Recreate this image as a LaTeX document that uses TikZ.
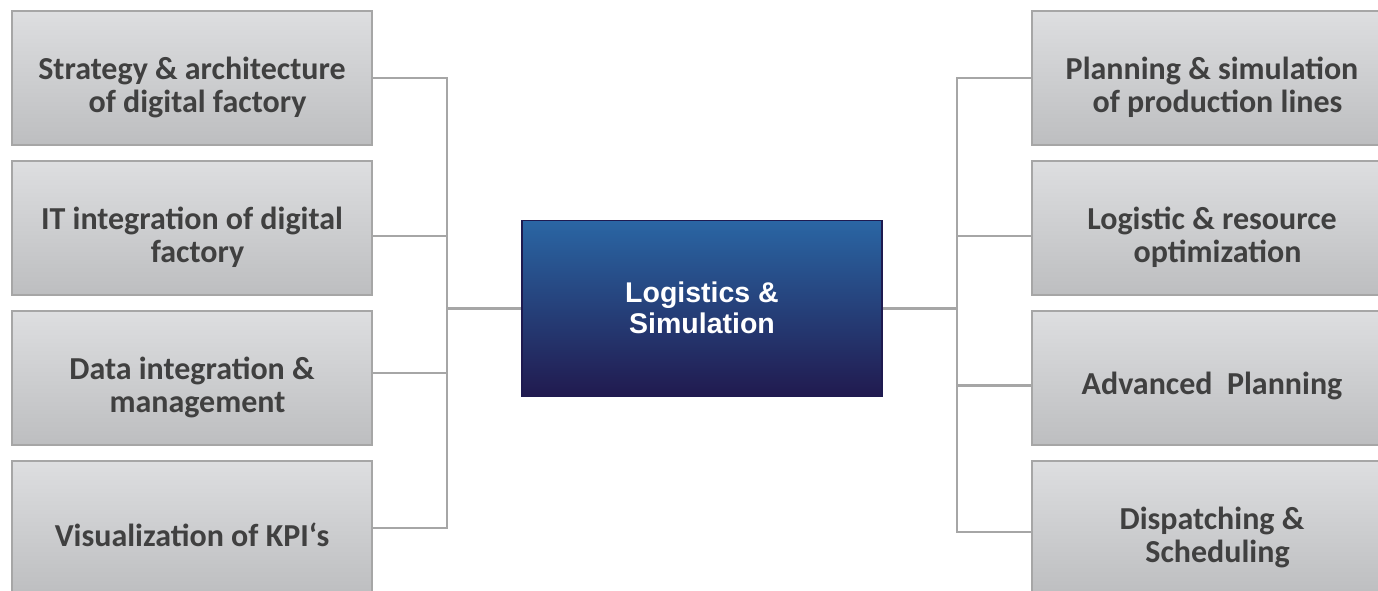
\documentclass[tikz,border=0pt]{standalone}
\usepackage{fontspec}
\setmainfont{Carlito}
\newfontfamily\arialb{Liberation Sans}
\definecolor{boxtop}{HTML}{DDDEE0}
\definecolor{boxbot}{HTML}{BDBEC0}
\definecolor{boxline}{HTML}{A6A6A6}
\definecolor{txtgray}{HTML}{404040}
\definecolor{ctop}{HTML}{2A66A4}
\definecolor{cbot}{HTML}{211A4F}
\definecolor{cline}{HTML}{1E1A50}
\newcommand{\lead}{\hspace*{11pt}}
\begin{document}
\begin{tikzpicture}[x=1pt,y=-1pt,
  graybox/.style={draw=boxline,line width=2pt,top color=boxtop,bottom color=boxbot,
    minimum width=360pt,minimum height=134pt,inner sep=0pt},
  gtext/.style={text=txtgray,align=center,font=\fontsize{32}{33}\selectfont\bfseries},
  centerbox/.style={draw=cline,line width=1.5pt,top color=ctop,bottom color=cbot,
    minimum width=360pt,minimum height=176pt,inner sep=0pt},
  conn/.style={draw=boxline,line width=2.2pt}]
\useasboundingbox (0,0) rectangle (1378,591);
\clip (0,0) rectangle (1378,591);
\fill[white] (0,0) rectangle (1378,591);
% left boxes
\node[graybox] (l1) at (192,78) {};
\node[graybox] (l2) at (192,228) {};
\node[graybox] (l3) at (192,378) {};
\node[graybox] (l4) at (192,528) {};
% right boxes
\node[graybox] (r1) at (1212,78) {};
\node[graybox] (r2) at (1212,228) {};
\node[graybox] (r3) at (1212,378) {};
\node[graybox] (r4) at (1212,528) {};
% texts
\node[gtext] (t1) at (192,87) {Strategy \& architecture\\ \lead of digital factory};
\node[gtext] (t2) at (192,237) {IT integration of digital\\ \lead factory};
\node[gtext] (t3) at (192,387) {Data integration \&\\ \lead management};
\node[gtext] (t4) at (192,535) {Visualization of KPI‘s};
\node[gtext] (t5) at (1212,87) {Planning \& simulation\\ \lead of production lines};
\node[gtext] (t6) at (1212,237) {Logistic \& resource\\ \lead optimization};
\node[gtext] (t7) at (1212,386) {Advanced\ \ Planning};
\node[gtext] (t8) at (1212,537) {Dispatching \&\\ \lead Scheduling};
% center
\node[centerbox] (c) at (702,308.5) {};
\node[text=white,align=center,font=\fontsize{28.5}{31}\selectfont\arialb\bfseries] (ct) at (702,308) {Logistics \&\\ Simulation};
% junctions
\coordinate (jl) at (447,308.5);
\coordinate (jr) at (957,308.5);
\coordinate (jl1) at (447,78);
\coordinate (jl4) at (447,528);
\coordinate (jr1) at (957,78);
\coordinate (jr4) at (957,532);
% left connectors
\draw[conn] (l1.east |- 0,78) -- (jl1) -- (jl4) -- (l4.east |- 0,528);
\draw[conn] (l2.east |- 0,236) -- (447,236);
\draw[conn] (l3.east |- 0,373) -- (447,373);
\draw[conn] (jl) -- (c.west |- jl);
% right connectors
\draw[conn] (r1.west |- 0,78) -- (jr1) -- (jr4) -- (r4.west |- 0,532);
\draw[conn] (r2.west |- 0,236) -- (957,236);
\draw[conn] (r3.west |- 0,385.5) -- (957,385.5);
\draw[conn] (jr) -- (c.east |- jr);
\end{tikzpicture}
\end{document}
